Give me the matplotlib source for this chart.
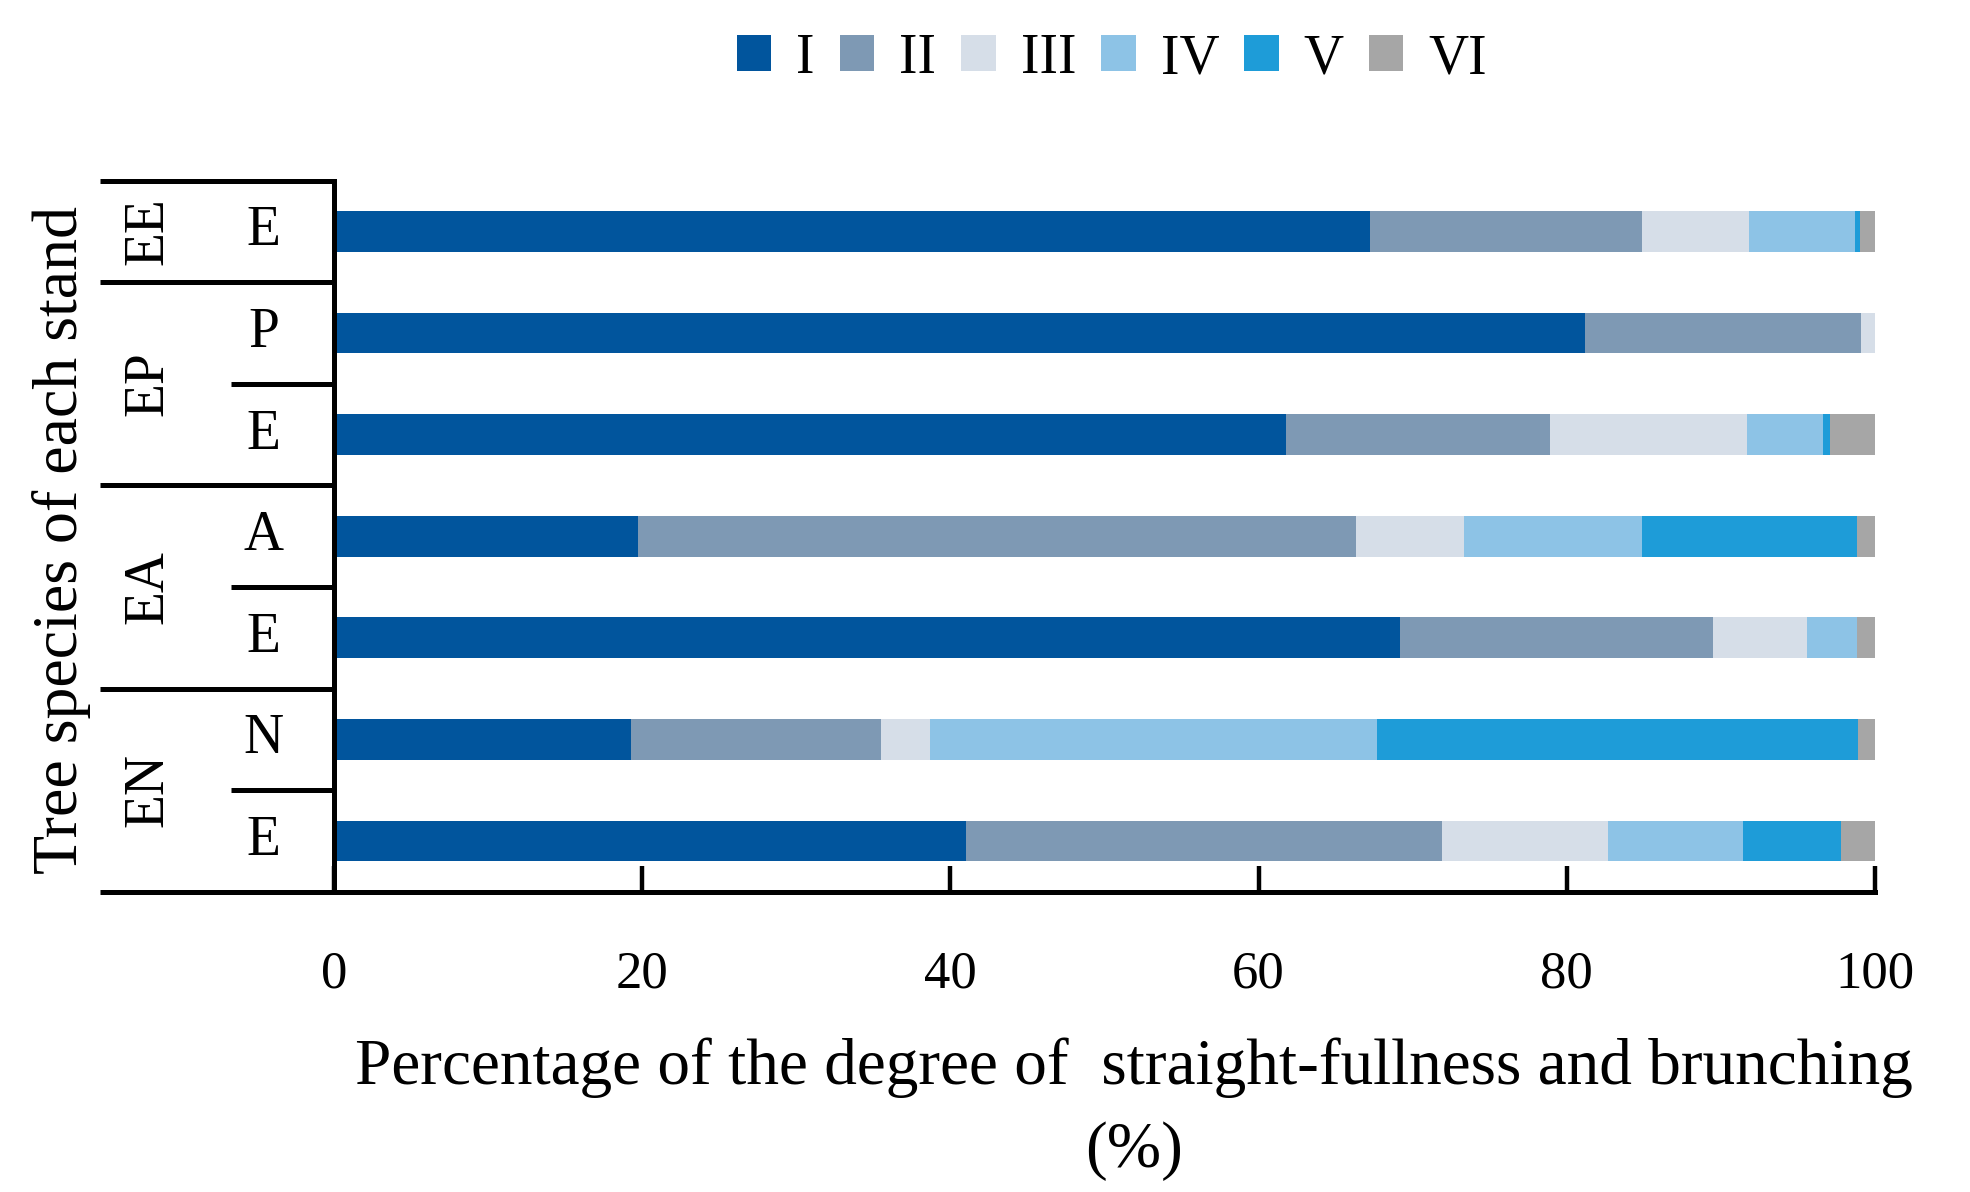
import matplotlib
matplotlib.use("Agg")
import matplotlib.pyplot as plt
import matplotlib.transforms as mtransforms
import numpy as np

plt.rcParams['font.family'] = ['Liberation Serif', 'DejaVu Serif']

# ---- data ----
groups = ["EE", "EP", "EA", "EN"]
group_sizes = [1, 2, 2, 2]
species = ["E", "P", "E", "A", "E", "N", "E"]
grades = ["I", "II", "III", "IV", "V", "VI"]
grade_I = [67.2, 81.2, 61.8, 19.7, 69.2, 19.3, 41.0]
grade_II = [17.7, 17.9, 17.1, 46.6, 20.3, 16.2, 30.9]
grade_III = [6.9, 0.9, 12.8, 7.0, 6.1, 3.2, 10.8]
grade_IV = [6.9, 0.0, 4.9, 11.6, 3.2, 29.0, 8.7]
grade_V = [0.3, 0.0, 0.5, 13.9, 0.0, 31.2, 6.4]
grade_VI = [1.0, 0.0, 2.9, 1.2, 1.2, 1.1, 2.2]
xticks = [0, 20, 40, 60, 80, 100]

colors = ["#01559D", "#7E99B4", "#D6DEE8", "#8DC3E6", "#1E9CD8", "#A6A6A6"]

series = [grade_I, grade_II, grade_III, grade_IV, grade_V, grade_VI]

fig = plt.figure(figsize=(19.7, 11.92), dpi=100)
ax = fig.add_axes([0.1695, 0.2519, 0.9518 - 0.1695, 0.8484 - 0.2519])

ypos = np.arange(len(species))
left = np.zeros(len(species))
for vals, col, name in zip(series, colors, grades):
    v = np.array(vals)
    ax.barh(ypos, v, left=left, height=0.40, color=col, label=name, linewidth=0)
    left += v

ax.set_xlim(0, 100)
ax.set_ylim(len(species) - 0.5, -0.5)

lw = 3.6
for s in ["top", "right"]:
    ax.spines[s].set_visible(False)
ax.spines["left"].set_linewidth(lw)
ax.spines["bottom"].set_linewidth(lw)
ax.set_yticks([])
ax.set_xticks(xticks)
ax.set_xticklabels([str(t) for t in xticks])
ax.tick_params(axis="x", direction="in", length=19, width=3.2, labelsize=38, pad=42)

# multi-level category axis
trans = mtransforms.blended_transform_factory(ax.transAxes, ax.transData)
outer_x = -0.1518
inner_x = -0.0668
bounds = np.cumsum([0] + group_sizes) - 0.5
for b in bounds:
    ax.plot([outer_x, 0], [b, b], color="black", lw=lw, transform=trans,
            clip_on=False, solid_capstyle="butt")
start = 0
for g, n in zip(groups, group_sizes):
    for k in range(1, n):
        yy = start + k - 0.5
        ax.plot([inner_x, 0], [yy, yy], color="black", lw=lw, transform=trans,
                clip_on=False, solid_capstyle="butt")
    center = start + (n - 1) / 2
    ax.text(-0.1205, center, g, transform=trans, rotation=90, ha="center",
            va="center", fontsize=40)
    start += n
for i, sp in enumerate(species):
    ax.text(-0.0455, i, sp, transform=trans, ha="center", va="center", fontsize=40)

fig.text(62 / 1970, 1 - 540 / 1192, "Tree species of each stand", rotation=90,
         ha="center", va="center", fontsize=46)

fig.text(1134 / 1970, 1 - 1109 / 1192,
         "Percentage of the degree of  straight-fullness and brunching\n(%)",
         ha="center", va="center", multialignment="center", fontsize=47,
         linespacing=1.5)

leg = ax.legend(loc="center", bbox_to_anchor=(1112 / 1970, 1 - 59 / 1192),
                bbox_transform=fig.transFigure, ncol=6, frameon=False,
                fontsize=40, handlelength=0.62, handleheight=0.62,
                handletextpad=0.45, columnspacing=0.45, borderaxespad=0)

fig.savefig("out.png", dpi=100)
